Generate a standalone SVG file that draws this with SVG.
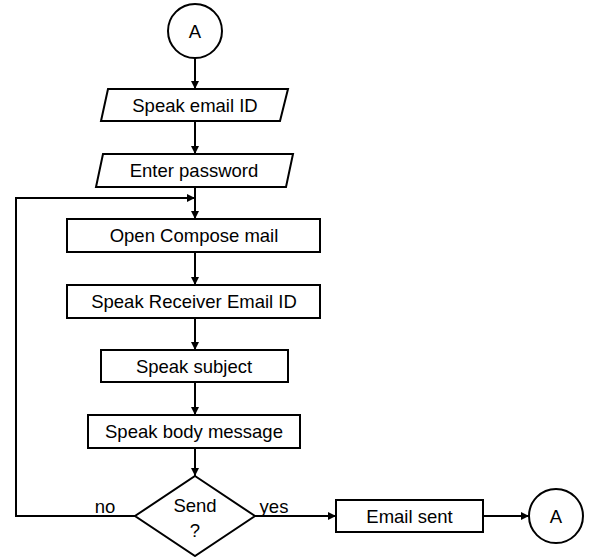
<svg xmlns="http://www.w3.org/2000/svg" width="590" height="557" viewBox="0 0 590 557">
<defs>
<marker id="arr" markerUnits="userSpaceOnUse" markerWidth="8" markerHeight="8" refX="8" refY="4" orient="auto">
<path d="M0,0 L8,4 L0,8 z" fill="#000"/>
</marker>
<style>
.s{fill:#fff;stroke:#000;stroke-width:2}
.t{font-family:"Liberation Sans",Arial,sans-serif;font-size:18.5px;fill:#000;text-anchor:middle}
.c{fill:none;stroke:#000;stroke-width:2;marker-end:url(#arr)}
.l{fill:none;stroke:#000;stroke-width:2}
</style>
</defs>
<rect width="590" height="557" fill="#fff"/>
<g id="connectors">
<line class="c" x1="195" y1="58" x2="195" y2="89"/>
<line class="c" x1="195" y1="121" x2="195" y2="154"/>
<line class="c" x1="195" y1="187" x2="195" y2="219"/>
<polyline class="c" points="135,516 16,516 16,198 195,198"/>
<line class="c" x1="195" y1="252" x2="195" y2="285"/>
<line class="c" x1="195" y1="318" x2="195" y2="350"/>
<line class="c" x1="195" y1="382" x2="195" y2="415"/>
<line class="c" x1="195" y1="448" x2="195" y2="476"/>
<line class="c" x1="255" y1="516" x2="336" y2="516"/>
<line class="c" x1="483" y1="516" x2="529" y2="516"/>
<text class="t" x="105" y="513">no</text>
<text class="t" x="274" y="513">yes</text>
</g>
<g id="startA">
<circle class="s" cx="195" cy="31" r="27"/>
<text class="t" x="195" y="38">A</text>
</g>
<g id="speakEmail">
<polygon class="s" points="108,89 288,89 280,121 101,121"/>
<text class="t" x="195" y="111.5">Speak email ID</text>
</g>
<g id="enterPassword">
<polygon class="s" points="103,154 293,154 286,187 96,187"/>
<text class="t" x="194" y="177">Enter password</text>
</g>
<g id="openCompose">
<rect class="s" x="67" y="219" width="253" height="33"/>
<text class="t" x="194" y="242">Open Compose mail</text>
</g>
<g id="speakReceiver">
<rect class="s" x="67" y="285" width="253" height="33"/>
<text class="t" x="194" y="308">Speak Receiver Email ID</text>
</g>
<g id="speakSubject">
<rect class="s" x="101" y="350" width="187" height="32"/>
<text class="t" x="194" y="372.5">Speak subject</text>
</g>
<g id="speakBody">
<rect class="s" x="88" y="415" width="212" height="33"/>
<text class="t" x="194" y="438">Speak body message</text>
</g>
<g id="send">
<polygon class="s" points="195,476 255,516 195,556 135,516"/>
<text class="t" x="195" y="512">Send</text>
<text class="t" x="195" y="537">?</text>
</g>
<g id="emailSent">
<rect class="s" x="336" y="500" width="147" height="32"/>
<text class="t" x="409.5" y="522.5">Email sent</text>
</g>
<g id="endA">
<circle class="s" cx="556" cy="516" r="27"/>
<text class="t" x="556" y="523">A</text>
</g>
</svg>
